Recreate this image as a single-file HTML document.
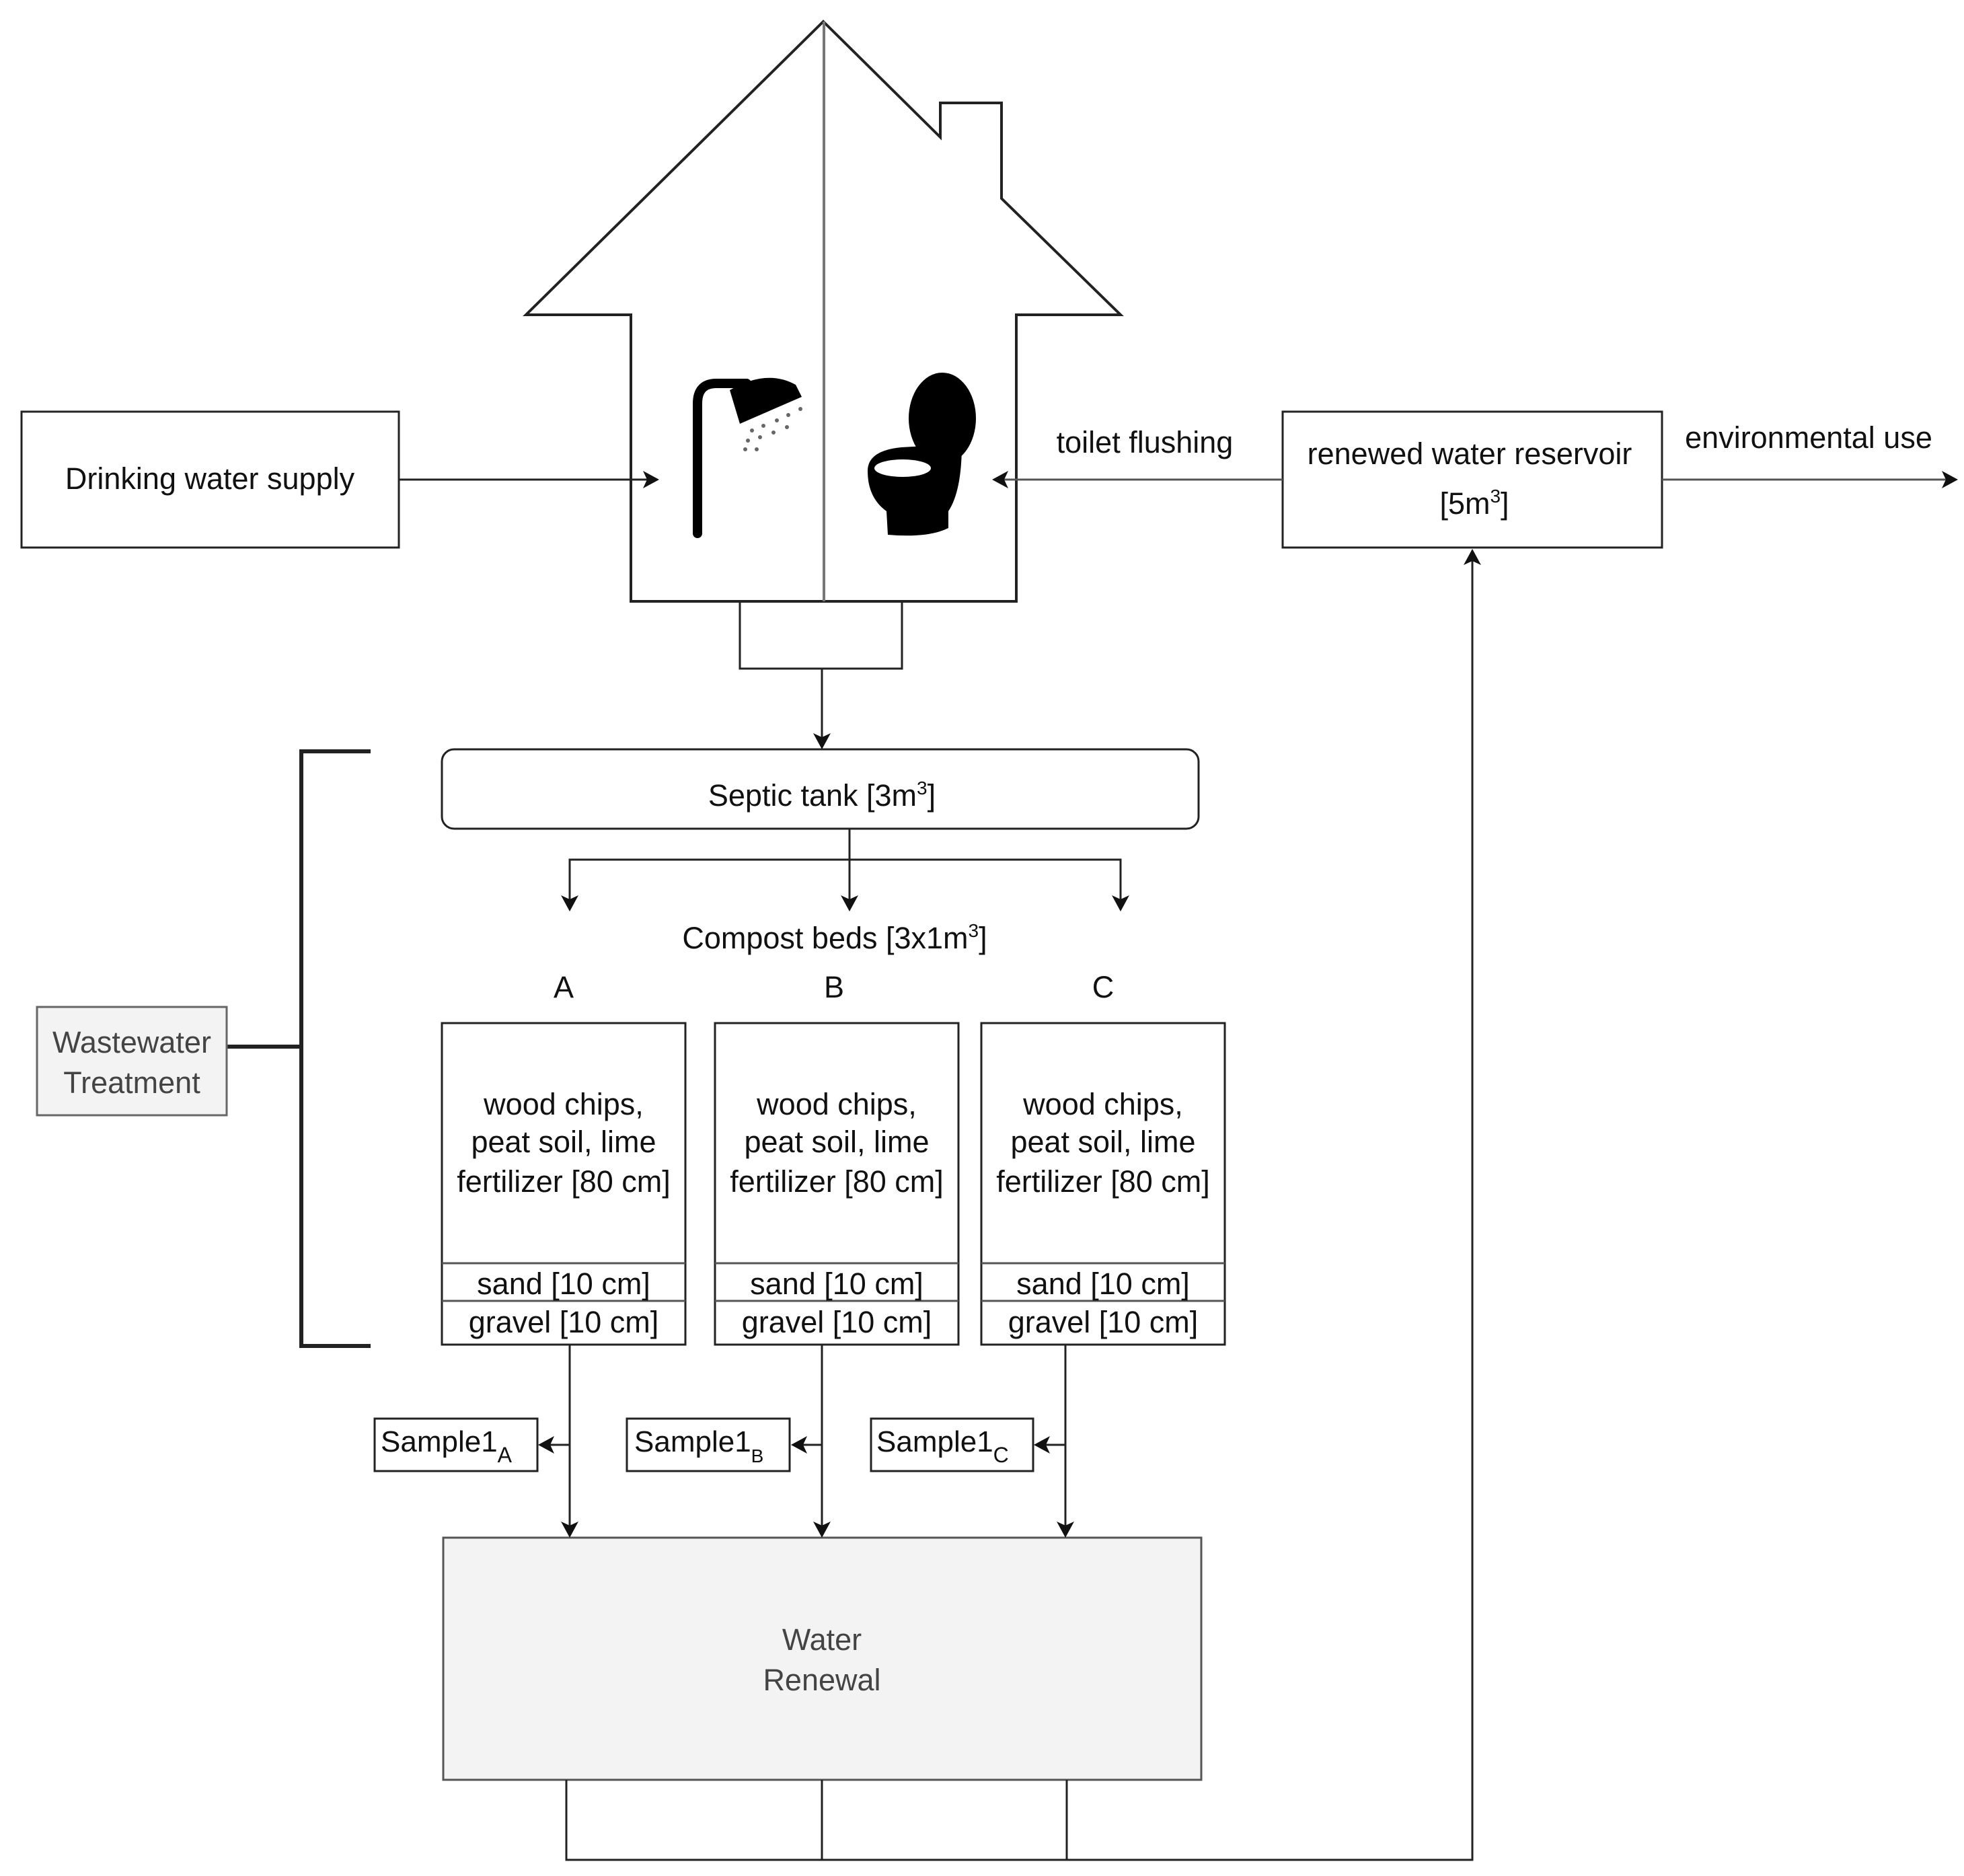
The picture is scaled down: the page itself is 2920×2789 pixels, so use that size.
<!DOCTYPE html>
<html><head><meta charset="utf-8"><style>
html,body{margin:0;padding:0;background:#fff}
svg{display:block}
text{font-family:"Liberation Sans",sans-serif;fill:#111}
</style></head><body>
<svg width="2920" height="2789" viewBox="0 0 2920 2789" xmlns="http://www.w3.org/2000/svg">
<g fill="none" stroke="#222" stroke-width="4">
<path d="M1224 32 L782 468 L938 468 L938 894 L1511 894 L1511 468 L1666 468 L1489 295 L1489 153 L1398 153 L1398 204 Z"/>
<line x1="1225" y1="32" x2="1225" y2="894" stroke="#777"/>
<path d="M1100 894 L1100 994 L1341 994 L1341 894" stroke-width="3"/>
<line x1="1222" y1="994" x2="1222" y2="1100" stroke-width="3"/>
<rect x="32" y="612" width="561" height="202" stroke-width="3"/>
<rect x="1907" y="612" width="564" height="202" stroke-width="3"/>
<rect x="657" y="1114" width="1125" height="118" rx="18" stroke-width="3"/>
<line x1="593" y1="713" x2="965" y2="713" stroke-width="3"/>
<line x1="1907" y1="713" x2="1490" y2="713" stroke="#555" stroke-width="3"/>
<line x1="2471" y1="713" x2="2895" y2="713" stroke="#555" stroke-width="3"/>
<path d="M1263 1232 L1263 1340 M847 1340 L847 1278 L1666 1278 L1666 1340" stroke-width="3"/>
<path d="M551 1117 L448 1117 L448 2001 L551 2001" stroke-width="6"/>
<line x1="337" y1="1556" x2="448" y2="1556" stroke-width="6"/>
<g stroke-width="3">
<rect x="657" y="1521" width="362" height="478"/>
<rect x="1063" y="1521" width="362" height="478"/>
<rect x="1459" y="1521" width="362" height="478"/>
<path d="M657 1878 H1019 M657 1934 H1019 M1063 1878 H1425 M1063 1934 H1425 M1459 1878 H1821 M1459 1934 H1821" stroke="#555"/>
<path d="M847 1999 V2272 M1222 1999 V2272 M1584 1999 V2272"/>
<path d="M847 2148 H812 M1222 2148 H1188 M1584 2148 H1550"/>
<rect x="557" y="2109" width="242" height="78"/>
<rect x="932" y="2109" width="242" height="78"/>
<rect x="1295" y="2109" width="241" height="78"/>
</g>
<rect x="659" y="2286" width="1127" height="360" fill="#f3f3f3" stroke="#555" stroke-width="3"/>
<rect x="55" y="1497" width="282" height="161" fill="#f3f3f3" stroke="#666" stroke-width="3"/>
<path d="M842 2646 V2765 H2189 V830 M1222 2646 V2765 M1586 2646 V2765" stroke-width="3"/>
</g>
<g fill="#111">
<path d="M980 713 L956 700 L962 713 L956 726 Z"/>
<path d="M1475 713 L1499 700 L1493 713 L1499 726 Z"/>
<path d="M2911 713 L2887 700 L2893 713 L2887 726 Z"/>
<path d="M1222 1114 L1209 1090 L1222 1096 L1235 1090 Z"/>
<path d="M847 1355 L834 1331 L847 1337 L860 1331 Z"/>
<path d="M1263 1355 L1250 1331 L1263 1337 L1276 1331 Z"/>
<path d="M1666 1355 L1653 1331 L1666 1337 L1679 1331 Z"/>
<path d="M847 2286 L834 2262 L847 2268 L860 2262 Z"/>
<path d="M1222 2286 L1209 2262 L1222 2268 L1235 2262 Z"/>
<path d="M1584 2286 L1571 2262 L1584 2268 L1597 2262 Z"/>
<path d="M800 2148 L824 2135 L818 2148 L824 2161 Z"/>
<path d="M1176 2148 L1200 2135 L1194 2148 L1200 2161 Z"/>
<path d="M1537 2148 L1561 2135 L1555 2148 L1561 2161 Z"/>
<path d="M2189 816 L2176 840 L2189 834 L2202 840 Z"/>
</g>
<g fill="none" stroke="#000" stroke-width="14" stroke-linecap="round">
<path d="M1037 793 V600 Q1037 570 1065 570 H1110"/>
</g>
<path d="M1085 580 Q1140 548 1183 572 L1192 590 L1100 630 Z" fill="#000"/>
<g fill="#666"><circle cx="1118" cy="640" r="3"/><circle cx="1135" cy="633" r="3"/><circle cx="1155" cy="625" r="3"/><circle cx="1172" cy="617" r="3"/><circle cx="1190" cy="608" r="3"/><circle cx="1112" cy="655" r="3"/><circle cx="1130" cy="650" r="3"/><circle cx="1150" cy="643" r="3"/><circle cx="1170" cy="635" r="3"/><circle cx="1108" cy="668" r="3"/><circle cx="1125" cy="668" r="3"/></g>
<g fill="#000">
<ellipse cx="1401" cy="622" rx="50" ry="68"/>
<path d="M1290 700 Q1290 670 1340 665 L1430 660 Q1430 730 1410 760 L1410 785 Q1380 800 1320 795 L1318 760 Q1290 740 1290 700 Z"/>
</g>
<ellipse cx="1342" cy="696" rx="42" ry="13" fill="#fff"/>
<g font-size="45" text-anchor="middle">
<text x="312" y="727">Drinking water supply</text>
<text x="1702" y="673">toilet flushing</text>
<text x="2185" y="690">renewed water reservoir</text>
<text x="2192" y="764">[5m<tspan font-size="28" dy="-17">3</tspan><tspan dy="17">]</tspan></text>
<text x="2689" y="666">environmental use</text>
<text x="1222" y="1198">Septic tank [3m<tspan font-size="28" dy="-17">3</tspan><tspan dy="17">]</tspan></text>
<text x="1241" y="1410">Compost beds [3x1m<tspan font-size="28" dy="-17">3</tspan><tspan dy="17">]</tspan></text>
<text x="838" y="1483">A</text><text x="1240" y="1483">B</text><text x="1640" y="1483">C</text>
<text x="838" y="1657">wood chips,</text><text x="838" y="1713">peat soil, lime</text><text x="838" y="1772">fertilizer [80 cm]</text>
<text x="838" y="1924">sand [10 cm]</text><text x="838" y="1981">gravel [10 cm]</text>
<text x="1244" y="1657">wood chips,</text><text x="1244" y="1713">peat soil, lime</text><text x="1244" y="1772">fertilizer [80 cm]</text>
<text x="1244" y="1924">sand [10 cm]</text><text x="1244" y="1981">gravel [10 cm]</text>
<text x="1640" y="1657">wood chips,</text><text x="1640" y="1713">peat soil, lime</text><text x="1640" y="1772">fertilizer [80 cm]</text>
<text x="1640" y="1924">sand [10 cm]</text><text x="1640" y="1981">gravel [10 cm]</text>
<text x="196" y="1565" style="fill:#444">Wastewater</text><text x="196" y="1625" style="fill:#444">Treatment</text>
<text x="1222" y="2453" style="fill:#444">Water</text><text x="1222" y="2513" style="fill:#444">Renewal</text>
</g>
<g font-size="44">
<text x="566" y="2158">Sample1<tspan font-size="32" dy="16">A</tspan></text>
<text x="943" y="2158">Sample1<tspan font-size="28" dy="16">B</tspan></text>
<text x="1303" y="2158">Sample1<tspan font-size="32" dy="16">C</tspan></text>
</g>
</svg>
</body></html>
